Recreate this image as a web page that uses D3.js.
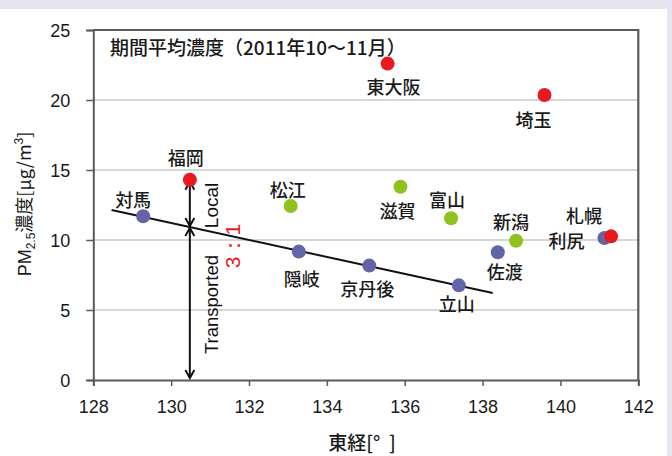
<!DOCTYPE html>
<html><head><meta charset="utf-8">
<script src="https://cdn.jsdelivr.net/npm/d3@7"></script>
<style>
html,body{margin:0;padding:0;background:#e9e4f1;}
svg{display:block;}
</style></head>
<body>
<svg id="chart" width="672" height="456"></svg>
<script>
// ---- data ----
const sites = ["対馬","隠岐","京丹後","立山","佐渡","利尻","松江","滋賀","富山","新潟","福岡","東大阪","埼玉","札幌"];
const longitude = [129.28,133.28,135.09,137.39,138.39,141.13,133.07,135.89,137.19,138.86,130.48,135.56,139.59,141.30];
const pm25 = [11.7,9.17,8.17,6.76,9.12,10.14,12.43,13.8,11.55,9.95,14.3,22.6,20.36,10.26];
const siteType = ["remote","remote","remote","remote","remote","remote","suburban","suburban","suburban","suburban","urban","urban","urban","urban"];
const trendLon = [128.47,138.26];
const trendPM = [12.14,6.21];
const xTicks = [128,130,132,134,136,138,140,142];
const yTicks = [0,5,10,15,20,25];
const title = "期間平均濃度（2011年10〜11月）";
const ratioText = "3：1";
// label offsets in px (layout)
const labelOffset = {"対馬":[-10,-9],"隠岐":[3,34],"京丹後":[-2,30],"立山":[-2,26],"佐渡":[7,27],"利尻":[-38,10],
 "松江":[-3,-9],"滋賀":[-3,31],"富山":[-4,-11],"新潟":[-5,-12],"福岡":[-4,-15],"東大阪":[6,30],"埼玉":[-11,32],"札幌":[-27,-13]};
const colors = {remote:"#6266a6",suburban:"#8dc21f",urban:"#e8191f"};

const svg = d3.select("#chart");
svg.append("rect").attr("x",0).attr("y",9).attr("width",667).attr("height",447).attr("fill","#ffffff");

const x = d3.scaleLinear().domain([128,142]).range([93.3,638.3]);
const y = d3.scaleLinear().domain([0,25]).range([380,30]);
const jp = "'Noto Sans CJK JP','Noto Sans',sans-serif";
const num = "'Liberation Sans',Arial,sans-serif";

// gridlines
svg.append("g").selectAll("line").data(yTicks.filter(d=>d>0&&d<25)).join("line")
  .attr("x1",x(128)).attr("x2",x(142)).attr("y1",d=>y(d)).attr("y2",d=>y(d))
  .attr("stroke","#c9c9c9").attr("stroke-width",1.3);

// axes
const axisColor = "#5a5a5a";
const gx = svg.append("g").attr("transform",`translate(0,${y(0)})`)
  .call(d3.axisBottom(x).tickValues(xTicks).tickSize(6).tickPadding(14).tickFormat(d3.format("d")));
const gy = svg.append("g").attr("transform",`translate(${x(128)},0)`)
  .call(d3.axisLeft(y).tickValues(yTicks).tickSize(7).tickPadding(16).tickFormat(d3.format("d")));
[gx,gy].forEach(g=>{
  g.select(".domain").attr("stroke",axisColor).attr("stroke-width",2);
  g.selectAll(".tick line").attr("stroke",axisColor).attr("stroke-width",1.5);
  g.selectAll(".tick text").attr("fill","#1a1a1a").style("font-family",num).style("font-size","18px");
});
gy.selectAll(".tick text").attr("dy","0.35em");
// top & right frame
svg.append("path").attr("d",`M${x(128)},${y(25)}H${x(142)}V${y(0)}`)
  .attr("fill","none").attr("stroke",axisColor).attr("stroke-width",2.2);

// trend line
svg.append("line").attr("x1",x(trendLon[0])).attr("y1",y(trendPM[0]))
  .attr("x2",x(trendLon[1])).attr("y2",y(trendPM[1])).attr("stroke","#111").attr("stroke-width",2);

// arrows
const fukIdx = sites.indexOf("福岡");
const ax = x(longitude[fukIdx]);
const slope = (trendPM[1]-trendPM[0])/(trendLon[1]-trendLon[0]);
const baseVal = trendPM[0] + slope*(longitude[fukIdx]-trendLon[0]);
function head(px,py,dir){ // dir -1 up, +1 down
  return `M${px-4.5},${py-dir*8}L${px},${py}L${px+4.5},${py-dir*8}`;
}
const arrowG = svg.append("g").attr("stroke","#111").attr("stroke-width",2).attr("fill","none");
const yTop = y(pm25[fukIdx])+2, yMid = y(baseVal), yBot = y(0)-2;
arrowG.append("line").attr("x1",ax).attr("x2",ax).attr("y1",yTop).attr("y2",yBot);
arrowG.append("path").attr("d",head(ax,yTop,-1));
arrowG.append("path").attr("d",head(ax,yMid-1,1));
arrowG.append("path").attr("d",head(ax,yMid+1,-1));
arrowG.append("path").attr("d",head(ax,yBot,1));

// rotated labels
svg.append("text").attr("transform",`translate(218,${(yTop+yMid)/2+1}) rotate(-90)`)
  .attr("text-anchor","middle").style("font-family",num).style("font-size","19px").attr("fill","#111").text("Local");
svg.append("text").attr("transform",`translate(218,${(yMid+yBot)/2+2}) rotate(-90)`)
  .attr("text-anchor","middle").style("font-family",num).style("font-size","18.5px").attr("fill","#111").text("Transported");
svg.append("text").attr("transform",`translate(240,246) rotate(-90)`)
  .attr("text-anchor","middle").style("font-family",num).style("font-size","21px").attr("fill","#e8191f").text(ratioText);

// points
svg.append("g").selectAll("circle").data(sites.map((s,i)=>i)).join("circle")
  .attr("cx",i=>x(longitude[i])).attr("cy",i=>y(pm25[i])).attr("r",7)
  .attr("fill",i=>colors[siteType[i]]);

// point labels
svg.append("g").selectAll("text").data(sites.map((s,i)=>i)).join("text")
  .attr("x",i=>x(longitude[i])+labelOffset[sites[i]][0])
  .attr("y",i=>y(pm25[i])+labelOffset[sites[i]][1])
  .attr("text-anchor","middle").style("font-family",jp).style("font-size","18px").style("font-weight","500").attr("fill","#1a1a1a")
  .text(i=>sites[i]);

// title
svg.append("text").attr("x",110).attr("y",55).style("font-family",jp).style("font-size","19px").style("font-weight","500")
  .attr("fill","#1a1a1a").text(title);

// axis titles
svg.append("text").attr("x",362).attr("y",450).attr("text-anchor","middle")
  .style("font-family",jp).style("font-size","19px").style("font-weight","500").attr("fill","#1a1a1a").text("東経[°  ]").style("white-space","pre");
const yt = svg.append("text").attr("transform","translate(31,204) rotate(-90)").attr("text-anchor","middle")
  .style("font-family",jp).style("font-size","18px").attr("fill","#1a1a1a");
yt.append("tspan").style("font-family",num).text("PM");
yt.append("tspan").attr("dy",4).style("font-size","12px").style("font-family",num).text("2.5");
yt.append("tspan").attr("dy",-4).text("濃度[μg/m");
yt.append("tspan").attr("dy",-8).style("font-size","12px").style("font-family",num).text("3");
yt.append("tspan").attr("dy",8).text("]");
</script>
</body></html>
